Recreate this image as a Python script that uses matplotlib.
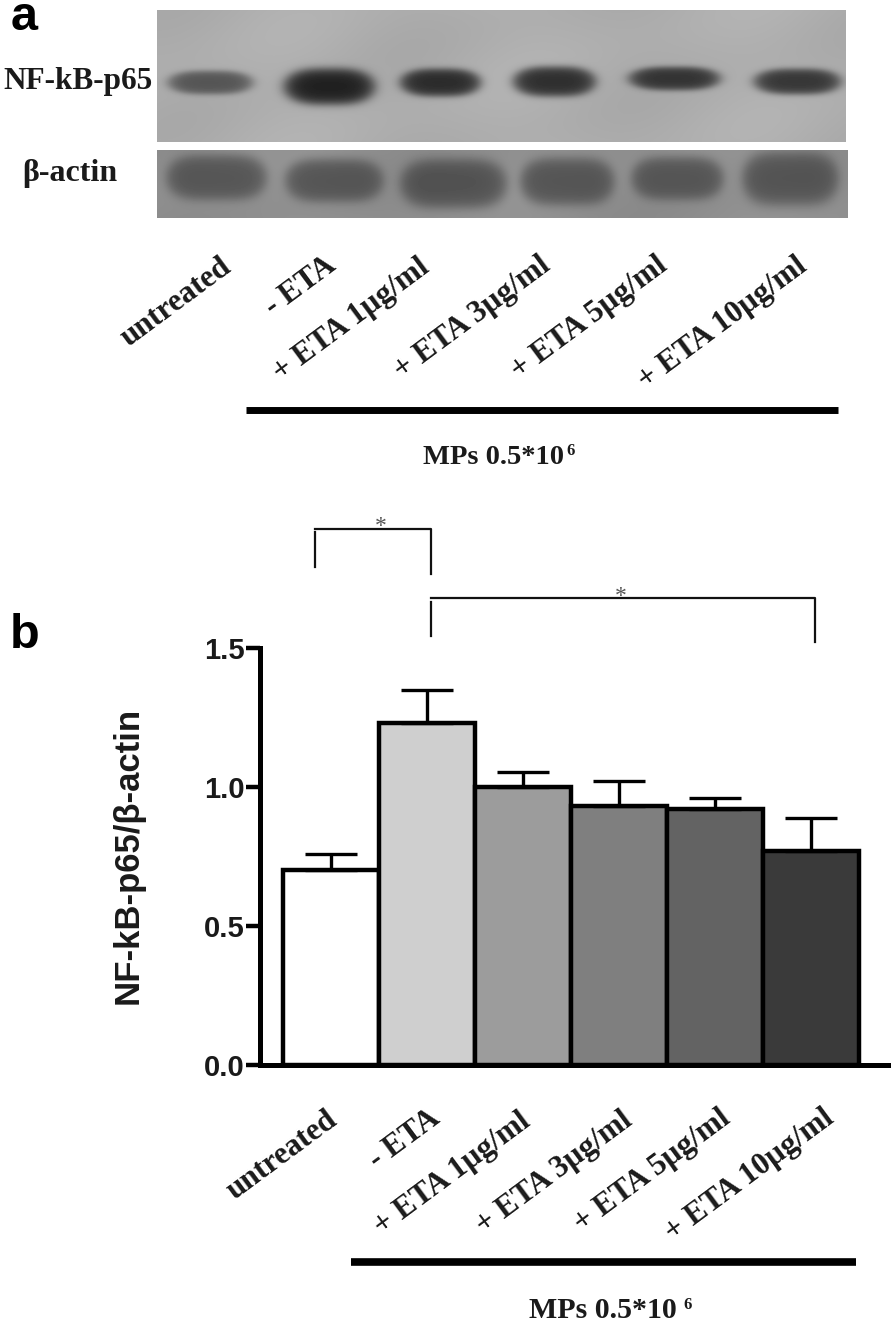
import numpy as np
import matplotlib
matplotlib.use("Agg")
import matplotlib.pyplot as plt

W, H = 894, 1327

# ---- data ----
categories = ["untreated", "- ETA", "+ ETA 1µg/ml", "+ ETA 3µg/ml", "+ ETA 5µg/ml", "+ ETA 10µg/ml"]
ratio_values = [0.70, 1.23, 1.00, 0.93, 0.92, 0.77]
ratio_errors = [0.06, 0.12, 0.055, 0.09, 0.04, 0.12]
bar_colors = ["#ffffff", "#cfcfcf", "#9c9c9c", "#7f7f7f", "#636363", "#3a3a3a"]
y_ticks = [0.0, 0.5, 1.0, 1.5]
y_tick_labels = ["0.0", "0.5", "1.0", "1.5"]
nfkb_density = [0.62, 1.00, 0.92, 0.90, 0.86, 0.84]
actin_density = [0.62, 0.62, 0.66, 0.64, 0.62, 0.64]

# ---- layout (pixels) ----
nfkb_x = [210, 329, 440, 554, 674, 797]
nfkb_y = [82, 86, 82, 81, 78, 81]
nfkb_w = [40, 43, 38, 39, 43, 41]
nfkb_h = [11, 17, 13, 14, 11, 12]
actin_x = [216, 334, 453, 567, 677, 790]
actin_y = [177, 180, 183, 181, 178, 178]
actin_w = [48, 47, 51, 45, 44, 46]
actin_h = [21, 20, 23, 22, 20, 25]
label_a_end = [(228, 264), (333, 262), (426, 264), (547, 262), (664, 262), (804, 263)]
label_b_dx = [(3, 52), (10, 50), (4, 53), (10, 52), (12, 50), (20, 50)]

fig = plt.figure(figsize=(W / 100, H / 100), dpi=100, facecolor="white")
SERIF = "Liberation Serif"
SANS = "Liberation Sans"


def blot(x0, x1, y0, y1, base, xs, ys, ws, hs, dens, dark, power):
    px, py = np.meshgrid(np.arange(x0, x1), np.arange(y0, y1))
    img = np.full(px.shape, base, dtype=float)
    img += 0.012 * np.sin(px / 37.0) + 0.01 * np.cos(py / 19.0 + px / 61.0)
    for cx, cy, w, h, d in zip(xs, ys, ws, hs, dens):
        r = (np.abs(px - cx) / w) ** power + (np.abs(py - cy) / h) ** 2
        a = 1 / (1 + np.exp((r - 1) * 3.0))
        img = img * (1 - a * d) + dark * a * d
    return img


overlay = fig.add_axes([0, 0, 1, 1], zorder=1)
overlay.set_xlim(0, W)
overlay.set_ylim(H, 0)
overlay.axis("off")

img1 = blot(157, 846, 10, 142, 0.68, nfkb_x, nfkb_y, nfkb_w, nfkb_h, nfkb_density, 0.1, 3)
img2 = blot(157, 848, 150, 218, 0.56, actin_x, actin_y, actin_w, actin_h, actin_density, 0.18, 4)
overlay.imshow(img1, cmap="gray", vmin=0, vmax=1, extent=(157, 846, 142, 10), aspect="auto", interpolation="bilinear")
overlay.imshow(img2, cmap="gray", vmin=0, vmax=1, extent=(157, 848, 218, 150), aspect="auto", interpolation="bilinear")
overlay.set_xlim(0, W)
overlay.set_ylim(H, 0)


def t(x, y, s, **kw):
    kw.setdefault("family", SERIF)
    kw.setdefault("weight", "bold")
    kw.setdefault("color", "#1a1a1a")
    return overlay.text(x, y, s, **kw)


t(11, 30, "a", family=SANS, fontsize=35, color="black", ha="left", va="baseline")
t(10, 648, "b", family=SANS, fontsize=35, color="black", ha="left", va="baseline")
t(3, 81, "NF-kB-p65", fontsize=22.5, ha="left", va="center")
t(22, 173, "β-actin", fontsize=23, ha="left", va="center")

for (ex, ey), lab in zip(label_a_end, categories):
    t(ex, ey, lab, fontsize=22.5, rotation=36.5, rotation_mode="anchor", ha="right", va="center")

# group bars and captions
overlay.plot([246, 838], [410, 410], color="black", lw=5, solid_capstyle="butt")
overlay.plot([351, 856], [1262, 1262], color="black", lw=5.5, solid_capstyle="butt")
t(423, 457, "MPs 0.5*10", fontsize=20.5, ha="left", va="center")
t(566, 451, "6", fontsize=12, ha="left", va="center")
t(529, 1311, "MPs 0.5*10", fontsize=21.5, ha="left", va="center")
t(683, 1305, "6", fontsize=12, ha="left", va="center")

# significance brackets
overlay.plot([315, 315], [567, 532], color="#111111", lw=1.6)
overlay.plot([315, 431, 431], [529, 529, 574], color="#111111", lw=1.6)
overlay.plot([431, 431], [636, 602], color="#111111", lw=1.6)
overlay.plot([431, 815, 815], [598, 598, 642], color="#111111", lw=1.6)
t(381, 527, "*", family=SERIF, weight="normal", fontsize=17, color="#555555", ha="center", va="center")
t(621, 597, "*", family=SERIF, weight="normal", fontsize=17, color="#555555", ha="center", va="center")

# ---- bar chart ----
ax_left, ax_right, ax_top, ax_bottom = 260, 888, 648, 1065
ax = fig.add_axes([ax_left / W, 1 - ax_bottom / H, (ax_right - ax_left) / W, (ax_bottom - ax_top) / H], zorder=2)
ax.patch.set_alpha(0)
x = np.arange(len(categories))
ax.bar(x, ratio_values, width=0.99, color=bar_colors, edgecolor="black", linewidth=3.2)
ax.errorbar(x, ratio_values, yerr=[np.zeros(len(x)), ratio_errors], fmt="none", ecolor="black",
            elinewidth=2.4, capsize=18.5, capthick=2.4, zorder=1.5)
ax.set_xlim((ax_left - 331) / 96, (ax_right - 331) / 96)
ax.set_ylim(0, 1.5)
for s in ("top", "right"):
    ax.spines[s].set_visible(False)
ax.spines["left"].set_linewidth(3.6)
ax.spines["bottom"].set_linewidth(3.6)
ax.set_yticks(y_ticks)
ax.set_yticklabels(y_tick_labels, family=SANS, weight="bold", fontsize=21, color="#1a1a1a")
ax.tick_params(axis="y", length=10, width=3.2, pad=1)
ax.set_xticks([])
ax.set_ylabel("NF-kB-p65/β-actin", family=SANS, weight="bold", fontsize=25, color="#1a1a1a")
ax.yaxis.set_label_coords(-0.183, 0.5024)

for i, lab in enumerate(categories):
    dx, dy = label_b_dx[i]
    ax.annotate(lab, xy=(i, 0), xytext=(dx, -dy), textcoords="offset pixels", family=SERIF, weight="bold",
                fontsize=22.5, color="#1a1a1a", rotation=36.5, rotation_mode="anchor", ha="right", va="center",
                annotation_clip=False)

fig.savefig("out.png", dpi=100)
